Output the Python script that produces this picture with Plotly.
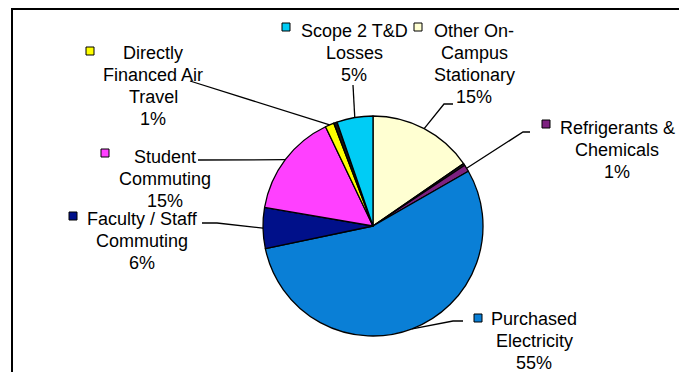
import math
import plotly.graph_objects as go

W, H = 679, 372

# Emission sources, listed clockwise from 12 o'clock
categories = [
    "Other On-Campus Stationary",
    "Direct Transportation",
    "Refrigerants & Chemicals",
    "Purchased Electricity",
    "Faculty / Staff Commuting",
    "Student Commuting",
    "Directly Financed Air Travel",
    "Solid Waste",
    "Scope 2 T&D Losses",
]
shares = [15.4, 0.3, 1.0, 55.0, 6.0, 15.2, 1.3, 0.5, 5.3]
colors = ["#FFFFD2", "#2A2A2A", "#7D2180", "#0A7FD6", "#00108A",
          "#FF40FF", "#FFFF00", "#151515", "#00CCF5"]

# Wrapped label text (None = slice left unlabelled)
label_lines = [
    ["Other On-", "Campus", "Stationary"],
    None,
    ["Refrigerants &", "Chemicals"],
    ["Purchased", "Electricity"],
    ["Faculty / Staff", "Commuting"],
    ["Student", "Commuting"],
    ["Directly", "Financed Air", "Travel"],
    None,
    ["Scope 2 T&D", "Losses"],
]

# Layout of the pie in pixels
CX, CY, R = 373, 226, 110
LINE_H = 22

# Label placement: (text centre x, first line y, key square centre, leader end points)
label_layout = {
    0: dict(x=474, y=31, key=(418, 27), leader=[(444, 104), (453, 104)]),
    2: dict(x=617, y=128, key=(546, 124), leader=[(523, 132), (530, 132)]),
    3: dict(x=534, y=319, key=(478, 318), leader=[(453, 321), (463, 321)]),
    4: dict(x=142, y=219, key=(73, 216), leader=[(217, 223), (202, 223)]),
    5: dict(x=165, y=157, key=(105, 153), leader=[(198, 160)]),
    6: dict(x=153, y=53, key=(90, 51), leader=[(190, 81)]),
    8: dict(x=354, y=31, key=(286, 27), leader=[(353, 85)]),
}


def px(x):
    return x / W


def py(y):
    return 1 - y / H


fig = go.Figure(
    go.Pie(
        labels=categories,
        values=shares,
        sort=False,
        direction="clockwise",
        rotation=0,
        textinfo="none",
        hoverinfo="label+percent",
        marker=dict(colors=colors, line=dict(color="black", width=1.3)),
        domain=dict(x=[px(CX - R), px(CX + R)], y=[py(CY + R), py(CY - R)]),
        showlegend=False,
    )
)

total = sum(shares)
annotations = []
shapes = []

# Chart area border
shapes.append(dict(type="rect", xref="paper", yref="paper",
                   x0=px(12), x1=px(W + 20), y0=py(H + 20), y1=py(9),
                   line=dict(color="black", width=2), fillcolor="rgba(0,0,0,0)"))

cum = 0.0
for i, v in enumerate(shares):
    mid = (cum + v / 2) / total * 2 * math.pi
    cum += v
    lines = label_lines[i]
    if lines is None:
        continue
    spec = label_layout[i]
    pct = f"{round(v / total * 100)}%"
    for k, t in enumerate(lines + [pct]):
        annotations.append(dict(
            x=px(spec["x"]), y=py(spec["y"] + k * LINE_H),
            xref="paper", yref="paper", xanchor="center", yanchor="middle",
            text=t, showarrow=False,
            font=dict(family="Liberation Sans, Arial", size=18, color="black"),
        ))
    # legend key square
    kx, ky = spec["key"]
    s = 4
    shapes.append(dict(type="rect", xref="paper", yref="paper",
                       x0=px(kx - s), x1=px(kx + s), y0=py(ky + s), y1=py(ky - s),
                       fillcolor=colors[i], line=dict(color="black", width=1)))
    # leader line from slice edge to the label
    ex = CX + R * math.sin(mid)
    ey = CY - R * math.cos(mid)
    pts = [(ex, ey)] + spec["leader"]
    path = "M " + " L ".join(f"{px(x):.5f},{py(y):.5f}" for x, y in pts)
    shapes.append(dict(type="path", xref="paper", yref="paper", path=path,
                       line=dict(color="black", width=1.3)))

fig.update_layout(
    width=W, height=H,
    margin=dict(l=0, r=0, t=0, b=0),
    paper_bgcolor="white",
    plot_bgcolor="white",
    annotations=annotations,
    shapes=shapes,
)

fig.write_html("out.html")
